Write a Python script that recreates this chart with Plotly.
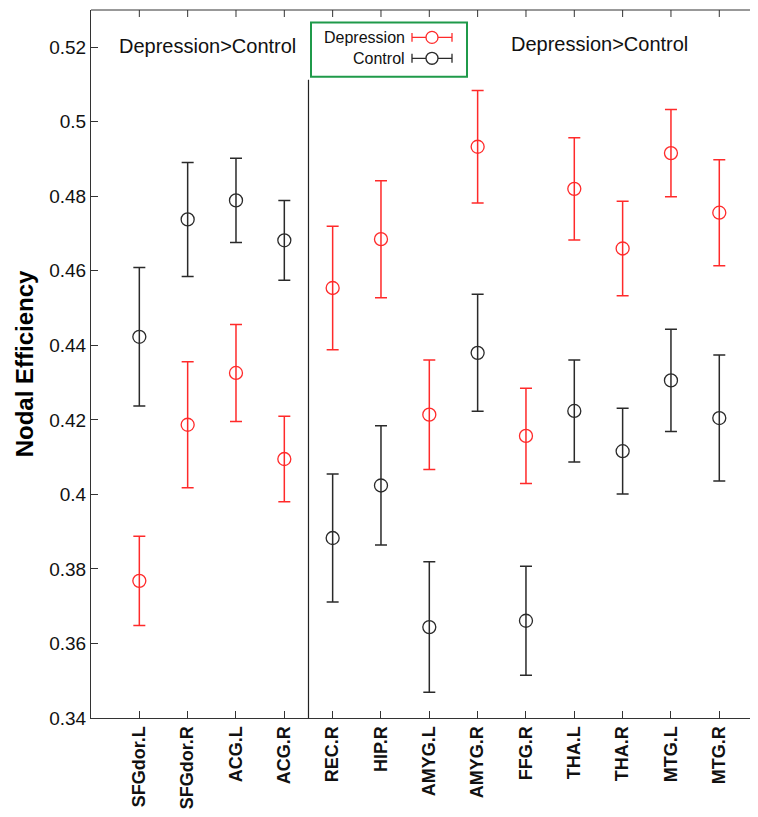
import plotly.graph_objects as go

regions = ["SFGdor.L", "SFGdor.R", "ACG.L", "ACG.R", "REC.R", "HIP.R", "AMYG.L",
           "AMYG.R", "FFG.R", "THA.L", "THA.R", "MTG.L", "MTG.R"]
depression_mean = [0.3768, 0.4187, 0.4326, 0.4095, 0.4554, 0.4685, 0.4214,
                   0.4933, 0.4157, 0.4820, 0.4660, 0.4916, 0.4756]
depression_err = [0.0120, 0.0169, 0.0130, 0.0115, 0.0166, 0.0157, 0.0147,
                  0.0151, 0.0128, 0.0137, 0.0127, 0.0117, 0.0142]
control_mean = [0.4423, 0.4738, 0.4789, 0.4682, 0.3883, 0.4024, 0.3644,
                0.4380, 0.3661, 0.4224, 0.4116, 0.4306, 0.4205]
control_err = [0.0186, 0.0153, 0.0113, 0.0107, 0.0172, 0.0160, 0.0175,
               0.0157, 0.0146, 0.0137, 0.0115, 0.0137, 0.0169]
ytick_vals = [0.34, 0.36, 0.38, 0.40, 0.42, 0.44, 0.46, 0.48, 0.50, 0.52]
ytick_text = ["0.34", "0.36", "0.38", "0.4", "0.42", "0.44", "0.46", "0.48", "0.5", "0.52"]

x = list(range(1, len(regions) + 1))
FONT = "Liberation Sans, Arial, Helvetica, sans-serif"
RED = "#ff2a2a"
BLK = "#2a2a2a"
AXC = "#333"

OFF = 8                      # default page body margin
W, H = 758 - 2 * OFF, 817 - 2 * OFF
AX_L, AX_T, AX_B = 91, 10, 721   # page pixel positions of the plot frame
ML, MT = AX_L - OFF, AX_T - OFF
MB = OFF + H - AX_B
MR = 0
PW, PH = W - ML - MR, H - MT - MB


def px(xp):
    return (xp - OFF - ML) / PW


def py(yp):
    return (OFF + H - MB - yp) / PH


fig = go.Figure()
fig.add_trace(go.Scatter(
    x=x, y=control_mean, mode="markers", name="Control",
    marker=dict(symbol="circle-open", size=13, color=BLK, line=dict(width=1.3, color=BLK)),
    error_y=dict(type="data", array=control_err, visible=True, color=BLK, thickness=1.5, width=6),
    showlegend=False))
fig.add_trace(go.Scatter(
    x=x, y=depression_mean, mode="markers", name="Depression",
    marker=dict(symbol="circle-open", size=13, color=RED, line=dict(width=1.3, color=RED)),
    error_y=dict(type="data", array=depression_err, visible=True, color=RED, thickness=1.5, width=6),
    showlegend=False))

shapes = []
# mask for any frame edge at the right side of the plot area (reference is open there)
shapes.append(dict(type="rect", xref="paper", yref="paper", x0=1 - 2.5 / PW, x1=1 + 2 / PW,
                   y0=0.003, y1=0.997, line=dict(width=0), fillcolor="white", layer="above"))
# top frame line with inward ticks
shapes.append(dict(type="line", xref="paper", yref="paper", x0=0, x1=1, y0=1, y1=1,
                   line=dict(color=AXC, width=1), layer="above"))
for xi in x:
    shapes.append(dict(type="line", xref="x", yref="paper", ysizemode="pixel", yanchor=1,
                       x0=xi, x1=xi, y0=0, y1=-7, line=dict(color=AXC, width=1)))
# divider line
shapes.append(dict(type="line", xref="x", yref="y", x0=4.5, x1=4.5, y0=0.34, y1=0.5113,
                   line=dict(color="#222", width=1.2)))
# legend box
shapes.append(dict(type="rect", xref="paper", yref="paper",
                   x0=px(311), x1=px(467), y0=py(77), y1=py(22.5),
                   line=dict(color="#1f9a4a", width=2), fillcolor="white", layer="above"))
annotations = []
for label, color, ypix in [("Depression", RED, 37.5), ("Control", BLK, 58.5)]:
    annotations.append(dict(text=label, xref="paper", yref="paper", x=px(407), y=py(ypix),
                            xanchor="right", yanchor="middle", showarrow=False,
                            font=dict(family=FONT, size=16, color="#111")))
    shapes.append(dict(type="line", xref="paper", yref="paper", x0=px(412), x1=px(452),
                       y0=py(ypix), y1=py(ypix), line=dict(color=color, width=1.3), layer="above"))
    for cx in (412, 452):
        shapes.append(dict(type="line", xref="paper", yref="paper", x0=px(cx), x1=px(cx),
                           y0=py(ypix - 4.5), y1=py(ypix + 4.5), line=dict(color=color, width=1.3),
                           layer="above"))
    shapes.append(dict(type="circle", xref="paper", yref="paper", x0=px(426), x1=px(438),
                       y0=py(ypix + 6), y1=py(ypix - 6), line=dict(color=color, width=1.3),
                       fillcolor="white", layer="above"))

annotations.append(dict(text="Depression>Control", xref="paper", yref="paper",
                        x=px(207), y=py(46), xanchor="center", yanchor="middle", showarrow=False,
                        font=dict(family=FONT, size=20, color="#111")))
annotations.append(dict(text="Depression>Control", xref="paper", yref="paper",
                        x=px(599), y=py(44), xanchor="center", yanchor="middle", showarrow=False,
                        font=dict(family=FONT, size=20, color="#111")))

fig.update_layout(
    width=W, height=H,
    margin=dict(l=ML, r=MR, t=MT, b=MB, pad=0),
    paper_bgcolor="white", plot_bgcolor="white",
    font=dict(family=FONT, color="#111"),
    shapes=shapes, annotations=annotations,
    xaxis=dict(range=[0, PW / 48.33], tickvals=x, ticktext=regions, tickangle=-90,
               ticks="inside", ticklen=7, tickcolor=AXC, tickwidth=1,
               showline=True, linecolor=AXC, linewidth=1, mirror=False,
               showgrid=False, zeroline=False,
               tickfont=dict(family=FONT, size=18, color="#111", weight="bold")),
    yaxis=dict(range=[0.34, 0.53], tickvals=ytick_vals, ticktext=ytick_text,
               ticks="inside", ticklen=7, tickcolor=AXC, tickwidth=1,
               showline=True, linecolor=AXC, linewidth=1, mirror=False,
               showgrid=False, zeroline=False,
               tickfont=dict(family=FONT, size=19, color="#111"),
               title=dict(text="Nodal Efficiency", standoff=8,
                          font=dict(family=FONT, size=24, color="#000", weight="bold"))),
)

fig.write_html("out.html")
